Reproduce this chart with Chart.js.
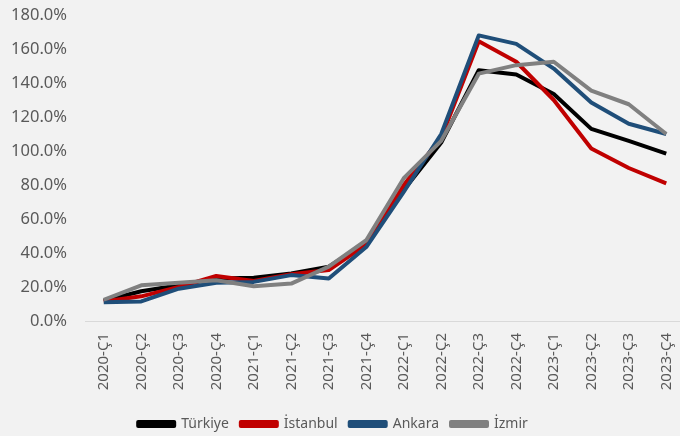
<!DOCTYPE html>
<html>
<head>
<meta charset="utf-8">
<script src="https://cdn.jsdelivr.net/npm/chart.js@4"></script>
<style>
  body { margin: 0; background: #f2f2f2; }
  #wrap { width: 680px; height: 436px; }
</style>
</head>
<body>
<div id="wrap"><canvas id="myChart" width="680" height="436"></canvas></div>
<script>
var quarters = ['2020-Ç1','2020-Ç2','2020-Ç3','2020-Ç4','2021-Ç1','2021-Ç2','2021-Ç3','2021-Ç4',
                '2022-Ç1','2022-Ç2','2022-Ç3','2022-Ç4','2023-Ç1','2023-Ç2','2023-Ç3','2023-Ç4'];
var turkiye  = [12, 17.5, 21, 25, 25.5, 28, 32, 46, 77, 105, 147.5, 145, 133.5, 113, 106, 98.5];
var istanbul = [11.5, 14.5, 20, 26.5, 23.5, 27.5, 30, 45, 80, 108, 164.5, 152.5, 130, 101.5, 90, 81];
var ankara   = [11, 11.5, 19, 22.5, 23, 27, 25, 43.5, 76, 110, 168, 163, 148.5, 128.5, 116, 110];
var izmir    = [12.5, 21, 22.5, 24, 20.5, 22, 32, 47.5, 84, 106, 145.5, 150.5, 152.5, 135.5, 127.5, 110];
var yTicks = [0, 20, 40, 60, 80, 100, 120, 140, 160, 180];

var font = "'Noto Sans', sans-serif";
Chart.defaults.font.family = font;
Chart.defaults.color = '#595959';

function line(label, data, color, order) {
    return {
        label: label,
        data: data,
        borderColor: color,
        backgroundColor: color,
        borderWidth: 4,
        pointRadius: 0,
        tension: 0,
        borderJoinStyle: 'round',
        order: order
    };
}

// pin the plot area to where the original sits (it runs a little past the right edge)
const pinArea = {
    id: 'pinArea',
    afterLayout(c) {
        const a = c.chartArea, x = c.scales.x, y = c.scales.y;
        a.left = 85; a.right = 685; a.top = 15; a.bottom = 321;
        a.width = a.right - a.left; a.height = a.bottom - a.top;
        const xh = x.height;
        x.left = a.left; x.right = a.right; x.width = a.width;
        x.top = a.bottom; x.bottom = a.bottom + xh;
        x.configure();
        y.left = 0; y.right = a.left; y.width = a.left;
        y.top = a.top; y.bottom = a.bottom; y.height = a.height;
        y.configure();
        const lg = c.legend, lh = lg.height;
        lg.top = 405; lg.bottom = 405 + lh;
        lg.left -= 7; lg.right -= 7;
    }
};

let chart = document.getElementById('myChart').getContext('2d');
let priceChart = new Chart(chart, {
    type: 'line',
    data: {
        labels: quarters,
        datasets: [
            line('Türkiye', turkiye, '#000000', 3),
            line('İstanbul', istanbul, '#c00000', 2),
            line('Ankara', ankara, '#1f4e79', 1),
            line('İzmir', izmir, '#808080', 0)
        ]
    },
    plugins: [pinArea],
    options: {
        responsive: false,
        animation: false,
        plugins: {
            tooltip: { enabled: false },
            legend: {
                position: 'bottom',
                labels: {
                    boxWidth: 36,
                    boxHeight: 4,
                    padding: 12,
                    font: { size: 14 },
                    sort: (a, b) => a.datasetIndex - b.datasetIndex
                }
            }
        },
        scales: {
            x: {
                offset: true,
                grid: { display: false, drawTicks: false },
                border: { color: '#d9d9d9', width: 1 },
                ticks: { minRotation: 90, maxRotation: 90, padding: 12, font: { size: 15 } }
            },
            y: {
                min: 0,
                max: 180,
                grid: { display: false, drawTicks: false },
                border: { display: false },
                afterBuildTicks: function (s) { s.ticks = yTicks.map(v => ({ value: v })); },
                ticks: {
                    padding: 18,
                    font: { size: 16.5 },
                    callback: v => v.toFixed(1) + '%'
                }
            }
        }
    }
});
</script>
</body>
</html>
